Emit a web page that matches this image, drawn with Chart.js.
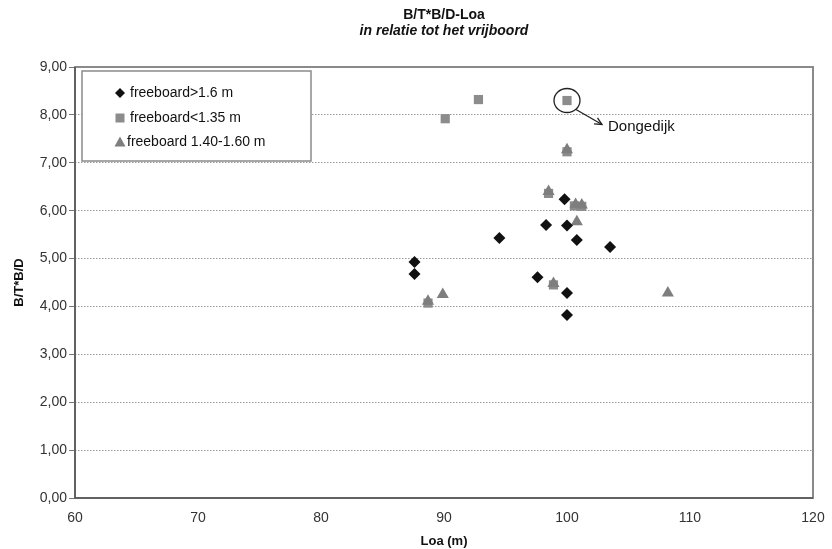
<!DOCTYPE html>
<html>
<head>
<meta charset="utf-8">
<script src="https://cdn.jsdelivr.net/npm/chart.js@4.4.0/dist/chart.umd.min.js"></script>
<style>
  html, body { margin: 0; padding: 0; background: #fff; }
  #wrap { width: 832px; height: 549px; }
</style>
</head>
<body>
<div id="wrap"><canvas id="chart" width="832" height="549"></canvas></div>
<script>
// =====================
// Data
// =====================
const seriesNames = ['freeboard>1.6 m', 'freeboard<1.35 m', 'freeboard 1.40-1.60 m'];

const highLoa = [87.6, 87.6, 94.5, 99.8, 98.3, 100.0, 100.8, 103.5, 97.6, 100.0, 100.0];
const highVal = [4.93, 4.68, 5.43, 6.24, 5.70, 5.69, 5.39, 5.24, 4.61, 4.28, 3.82];

const lowLoa = [90.1, 92.8, 100.0, 88.7, 98.5, 100.0, 100.6, 101.2, 98.9];
const lowVal = [7.92, 8.32, 8.30, 4.07, 6.36, 7.23, 6.10, 6.09, 4.45];

const midLoa = [88.7, 89.9, 98.5, 100.0, 100.7, 101.2, 100.8, 98.9, 108.2];
const midVal = [4.11, 4.25, 6.40, 7.27, 6.13, 6.12, 5.77, 4.48, 4.28];

const xTicks = [60, 70, 80, 90, 100, 110, 120];
const yTicks = [0, 1, 2, 3, 4, 5, 6, 7, 8, 9];

const noteLabel = 'Dongedijk';
const noteIndex = 2; // index in the <1.35 m series

const toPoints = (xs, ys) => xs.map((x, i) => ({ x, y: ys[i] }));

const FONT = '"Liberation Sans", Arial, sans-serif';

// =====================
// Plugin: titles, frame, legend, annotation
// =====================
const decorPlugin = {
  id: 'decor',
  beforeDatasetsDraw(chart) {
    const { ctx, chartArea: a } = chart;
    ctx.save();
    // plot frame
    ctx.strokeStyle = '#8a8a8a';
    ctx.lineWidth = 2;
    ctx.strokeRect(a.left, a.top, a.right - a.left, a.bottom - a.top);
    ctx.strokeStyle = '#555';
    ctx.lineWidth = 1.5;
    ctx.beginPath();
    ctx.moveTo(a.left, a.top);
    ctx.lineTo(a.left, a.bottom);
    ctx.lineTo(a.right, a.bottom);
    ctx.stroke();
    ctx.restore();
  },
  afterDraw(chart) {
    const { ctx, chartArea: a } = chart;
    const cx = (a.left + a.right) / 2;
    ctx.save();

    // titles
    ctx.fillStyle = '#111';
    ctx.textAlign = 'center';
    ctx.textBaseline = 'middle';
    ctx.font = 'bold 14px ' + FONT;
    ctx.fillText('B/T*B/D-Loa', cx, 15);
    ctx.font = 'italic bold 14px ' + FONT;
    ctx.fillText('in relatie tot het vrijboord', cx, 31);

    // legend box
    const lx = a.left + 7, ly = a.top + 4, lw = 229, lh = 90;
    ctx.fillStyle = '#fff';
    ctx.fillRect(lx, ly, lw, lh);
    ctx.strokeStyle = '#8a8a8a';
    ctx.lineWidth = 1.5;
    ctx.strokeRect(lx, ly, lw, lh);

    const ds = chart.data.datasets;
    const rows = [ly + 22, ly + 47, ly + 71];
    ds.forEach((d, i) => {
      const mx = lx + 38, my = rows[i];
      ctx.fillStyle = d.backgroundColor;
      ctx.beginPath();
      if (d.pointStyle === 'rectRot') {
        ctx.moveTo(mx, my - 5); ctx.lineTo(mx + 5, my); ctx.lineTo(mx, my + 5); ctx.lineTo(mx - 5, my);
      } else if (d.pointStyle === 'rect') {
        ctx.rect(mx - 4.5, my - 4.5, 9, 9);
      } else {
        ctx.moveTo(mx, my - 5.5); ctx.lineTo(mx + 5.5, my + 4.5); ctx.lineTo(mx - 5.5, my + 4.5);
      }
      ctx.closePath();
      ctx.fill();
      ctx.fillStyle = '#111';
      ctx.font = '14px ' + FONT;
      ctx.textAlign = 'left';
      ctx.textBaseline = 'middle';
      ctx.fillText(d.label, lx + (i === 2 ? 45 : 48), my);
    });

    // annotation round the Dongedijk point
    const px = chart.scales.x.getPixelForValue(lowLoa[noteIndex]);
    const py = chart.scales.y.getPixelForValue(lowVal[noteIndex]);
    ctx.strokeStyle = '#222';
    ctx.lineWidth = 1.3;
    ctx.beginPath();
    ctx.ellipse(px, py, 13, 12, 0, 0, Math.PI * 2);
    ctx.stroke();

    const sx = px + 9, sy = py + 9, ex = px + 35, ey = py + 24;
    ctx.beginPath();
    ctx.moveTo(sx, sy);
    ctx.lineTo(ex, ey);
    ctx.stroke();
    const ang = Math.atan2(ey - sy, ex - sx);
    ctx.beginPath();
    ctx.moveTo(ex - 8 * Math.cos(ang - 0.45), ey - 8 * Math.sin(ang - 0.45));
    ctx.lineTo(ex, ey);
    ctx.lineTo(ex - 8 * Math.cos(ang + 0.45), ey - 8 * Math.sin(ang + 0.45));
    ctx.stroke();

    ctx.fillStyle = '#111';
    ctx.font = '15px ' + FONT;
    ctx.textAlign = 'left';
    ctx.textBaseline = 'middle';
    ctx.fillText(noteLabel, ex + 6, ey + 2);
    ctx.restore();
  }
};

// =====================
// Chart
// =====================
const ctx = document.getElementById('chart').getContext('2d');
new Chart(ctx, {
  type: 'scatter',
  data: {
    datasets: [
      {
        label: seriesNames[0],
        data: toPoints(highLoa, highVal),
        pointStyle: 'rectRot',
        pointRadius: 6,
        backgroundColor: '#111',
        borderColor: '#111',
        borderWidth: 0,
        order: 1
      },
      {
        label: seriesNames[1],
        data: toPoints(lowLoa, lowVal),
        pointStyle: 'rect',
        pointRadius: 6.5,
        backgroundColor: '#8c8c8c',
        borderColor: '#8c8c8c',
        borderWidth: 0,
        order: 3
      },
      {
        label: seriesNames[2],
        data: toPoints(midLoa, midVal),
        pointStyle: 'triangle',
        pointRadius: 7,
        backgroundColor: '#7e7e7e',
        borderColor: '#7e7e7e',
        borderWidth: 0,
        order: 2
      }
    ]
  },
  options: {
    responsive: false,
    animation: false,
    layout: { padding: { top: 67, right: 19, left: 0, bottom: 0 } },
    plugins: {
      legend: { display: false },
      tooltip: { enabled: false }
    },
    scales: {
      x: {
        type: 'linear',
        min: xTicks[0],
        max: xTicks[xTicks.length - 1],
        afterBuildTicks: s => { s.ticks = xTicks.map(v => ({ value: v })); },
        afterFit: s => { s.height = 51; },
        grid: { display: false },
        border: { display: false },
        ticks: {
          color: '#333',
          font: { family: FONT, size: 14 },
          padding: 4,
          maxRotation: 0
        },
        title: {
          display: true,
          text: 'Loa (m)',
          color: '#111',
          font: { family: FONT, size: 13, weight: 'bold' },
          padding: { top: 4, bottom: 0 }
        }
      },
      y: {
        type: 'linear',
        min: yTicks[0],
        max: yTicks[yTicks.length - 1],
        afterBuildTicks: s => { s.ticks = yTicks.map(v => ({ value: v })); },
        afterFit: s => { s.width = 75; },
        grid: {
          color: '#9a9a9a',
          lineWidth: 1,
          drawTicks: true,
          tickLength: 6,
          tickColor: '#777',
          tickBorderDash: []
        },
        border: { display: false, dash: [1.5, 1.5] },
        ticks: {
          color: '#333',
          font: { family: FONT, size: 14 },
          padding: 2,
          callback: v => v.toFixed(2).replace('.', ',')
        },
        title: {
          display: true,
          text: 'B/T*B/D',
          color: '#111',
          font: { family: FONT, size: 13, weight: 'bold' },
          padding: { top: 12, bottom: 2 }
        }
      }
    }
  },
  plugins: [decorPlugin]
});
</script>
</body>
</html>
